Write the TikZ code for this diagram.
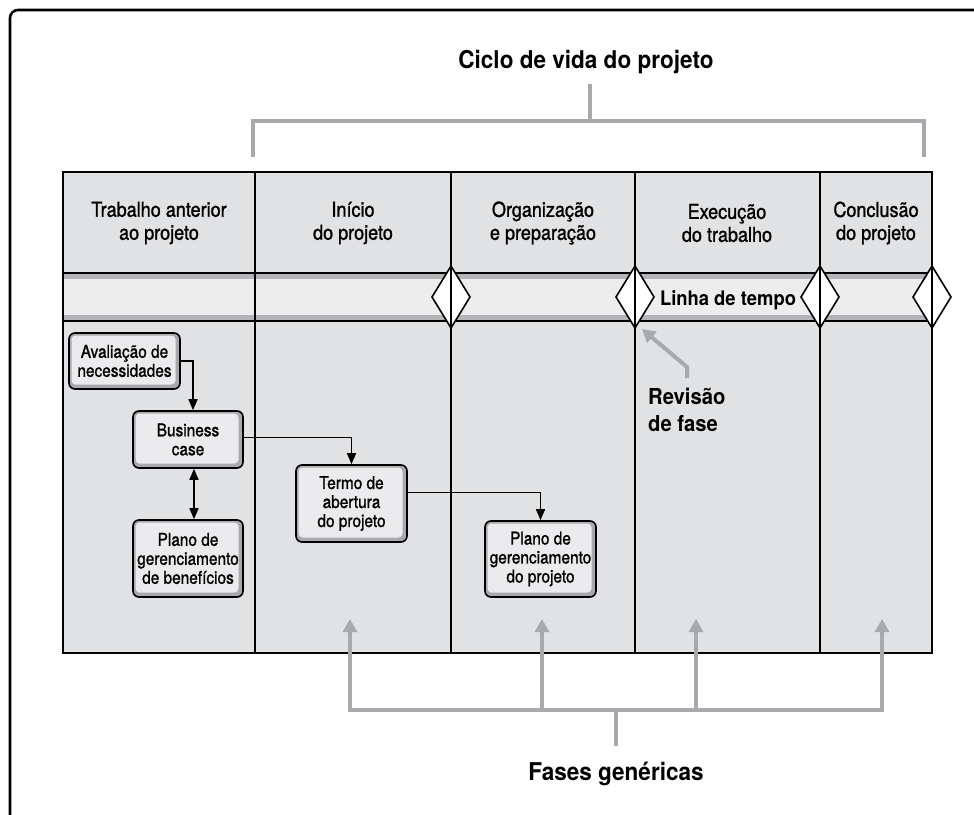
\documentclass[tikz,border=0pt]{standalone}
\usepackage{fontspec}
\setmainfont{TeX Gyre Heros}
\newfontfamily\textfam{TeX Gyre Heros}[FakeStretch=0.88, FakeBold=1.2]
\newfontfamily\titlefam{TeX Gyre Heros}[FakeStretch=0.92]
\usetikzlibrary{arrows.meta,positioning}

\definecolor{cellgray}{HTML}{E1E2E4}
\definecolor{bandgray}{HTML}{EDEDEE}
\definecolor{stripgray}{HTML}{B4B5B8}
\definecolor{linegray}{HTML}{A7A9AC}
\definecolor{boxface}{HTML}{EBEBED}

\newcommand{\phasefont}{\textfam\fontsize{20.5}{23}\selectfont}
\newcommand{\stepfont}{\textfam\fontsize{17.5}{19}\selectfont}
\newcommand{\cyclefont}{\titlefam\bfseries\fontsize{24.5}{27}\selectfont}

\begin{document}
\begin{tikzpicture}[x=1pt, y=-1pt,
    >={Triangle[length=11pt,width=9pt]},
    phase/.style={align=center, font=\phasefont, inner sep=0pt},
    stepbox/.style={draw, line width=1.6pt, rounded corners=6pt, fill=linegray,
        inner sep=0pt, minimum width=111pt, align=center, font=\stepfont,
        path picture={\fill[boxface, rounded corners=4pt]
            ([shift={(2.5pt,-2.5pt)}]path picture bounding box.north west) rectangle
            ([shift={(-4.5pt,4.5pt)}]path picture bounding box.south east);}},
    conn/.style={->, line width=1.5pt},
    grayline/.style={draw=linegray, line width=4.5pt},
    grayarrow/.style={grayline, -{Triangle[length=13pt,width=14pt]}},
    gate/.style={draw, fill=white, line width=1.6pt, line join=miter}]

    \useasboundingbox (0,0) rectangle (974,814);
    \clip (0,0) rectangle (974,814);

    % Outer frame
    \draw[line width=2.6pt, rounded corners=8pt] (10,10) rectangle (1000,840);

    % Table background and time line band
    \fill[cellgray] (63,172) rectangle (932,653);
    \fill[bandgray] (63,273) rectangle (932,321);
    \fill[stripgray] (63,273) rectangle (932,279);
    \fill[stripgray] (63,315) rectangle (932,321);
    \draw[line width=1.5pt] (63,273) -- (932,273) (63,321) -- (932,321);

    % Phase gates
    \foreach \x in {451,635,820,932}
        \draw[gate] (\x-19,297) -- (\x,266) -- (\x+19,297) -- (\x,328) -- cycle;

    % Column dividers and table frame
    \foreach \x in {255,451,635,820}
        \draw[line width=1.5pt] (\x,172) -- (\x,653);
    \draw[line width=2.5pt] (63,172) rectangle (932,653);

    % Phase headers
    \node[phase] (pre) at (159,223) {Trabalho anterior\\ao projeto};
    \node[phase] (ini) at (353,223) {Início\\do projeto};
    \node[phase] (org) at (543,223) {Organização\\e preparação};
    \node[phase] (exe) at (727,223) {Execução\\do trabalho};
    \node[phase] (con) at (876,223) {Conclusão\\do projeto};
    \node[font=\titlefam\bfseries\fontsize{20}{24}\selectfont, anchor=base, inner sep=0pt] (tempo) at (728,305) {Linha de tempo};

    % Documents
    \node[stepbox, minimum height=56pt] (need) at (124.5,361) {Avaliação de\\necessidades};
    \node[stepbox, minimum height=57pt, minimum width=110pt] (case) at (188,439.5) {Business\\case};
    \node[stepbox, minimum height=77pt, minimum width=110pt] (benef) at (188,558.5) {Plano de\\gerenciamento\\de benefícios};
    \node[stepbox, minimum height=77pt] (charter) at (351.5,503.5) {Termo de\\abertura\\do projeto};
    \node[stepbox, minimum height=76pt] (plan) at (540.5,559) {Plano de\\gerenciamento\\do projeto};

    \draw[conn] (need.east) -| ([xshift=5pt]case.north);
    \draw[conn] ([yshift=2pt]case.east) -| (charter.north);
    \draw[conn, <->] ([xshift=6pt]case.south) -- ([xshift=6pt]benef.north);
    \draw[conn] ([yshift=11pt]charter.east) -| (plan.north);

    % Life cycle bracket
    \node[font=\cyclefont, anchor=base, inner sep=0pt] (cycle) at (586,68) {Ciclo de vida do projeto};
    \coordinate (cyl) at (253,157);
    \coordinate (cyr) at (924,157);
    \draw[grayline] (cyl) -- (253,121) -- (924,121) -- (cyr);
    \draw[grayline] (590,121) -- ([xshift=4pt,yshift=-10pt]cycle.south);

    % Phase review
    \node[font=\titlefam\bfseries\fontsize{22}{27}\selectfont, align=left, anchor=north west, inner sep=0pt] (review) at (648,388) {Revisão\\de fase};
    \draw[grayarrow, line width=4pt] ([xshift=39pt,yshift=10pt]review.north west) -- ++(0,-11) -- (642,329);

    % Generic phases
    \node[font=\cyclefont, anchor=base, inner sep=0pt] (generic) at (616,780) {Fases genéricas};
    \coordinate (fork) at (616,710);
    \draw[grayline] ([yshift=15pt]generic.north) -- (fork);
    \draw[grayarrow, {Triangle[length=13pt,width=14pt]}-{Triangle[length=13pt,width=14pt]}]
        (350,619) -- (350,710) -- (882,710) -- (882,619);
    \foreach \x in {542,696}
        \draw[grayarrow] (\x,710) -- (\x,619);

\end{tikzpicture}
\end{document}
